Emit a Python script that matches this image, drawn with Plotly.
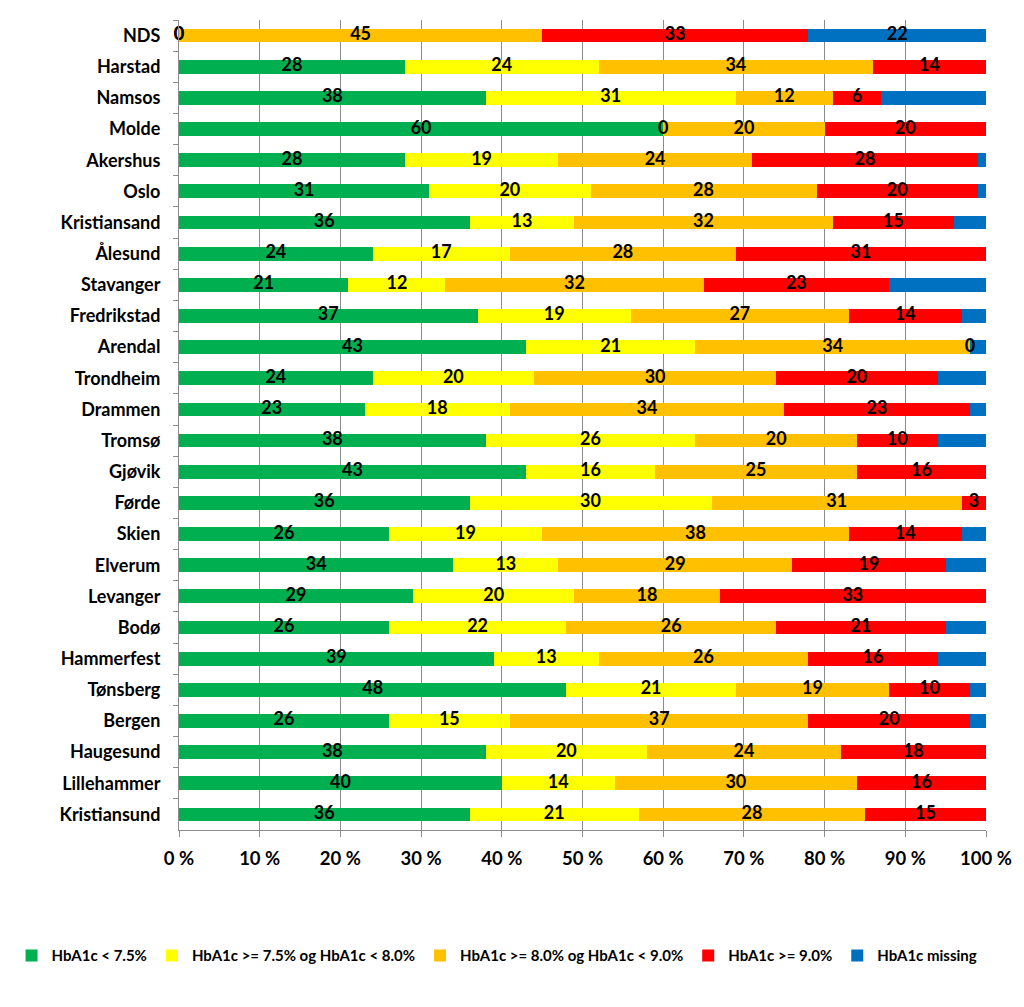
import plotly.graph_objects as go

categories = ["NDS", "Harstad", "Namsos", "Molde", "Akershus", "Oslo", "Kristiansand",
              "Ålesund", "Stavanger", "Fredrikstad", "Arendal", "Trondheim", "Drammen",
              "Tromsø", "Gjøvik", "Førde", "Skien", "Elverum", "Levanger", "Bodø",
              "Hammerfest", "Tønsberg", "Bergen", "Haugesund", "Lillehammer", "Kristiansund"]

lt75 = [0, 28, 38, 60, 28, 31, 36, 24, 21, 37, 43, 24, 23, 38, 43, 36, 26, 34, 29, 26, 39, 48, 26, 38, 40, 36]
b75_80 = [0, 24, 31, 0, 19, 20, 13, 17, 12, 19, 21, 20, 18, 26, 16, 30, 19, 13, 20, 22, 13, 21, 15, 20, 14, 21]
b80_90 = [45, 34, 12, 20, 24, 28, 32, 28, 32, 27, 34, 30, 34, 20, 25, 31, 38, 29, 18, 26, 26, 19, 37, 24, 30, 28]
ge90 = [33, 14, 6, 20, 28, 20, 15, 31, 23, 14, 0, 20, 23, 10, 16, 3, 14, 19, 33, 21, 16, 10, 20, 18, 16, 15]
missing = [22, 0, 13, 0, 1, 1, 4, 0, 12, 3, 2, 6, 2, 6, 0, 0, 3, 5, 0, 5, 6, 2, 2, 0, 0, 0]
missing_labels = ["22"] + [""] * 25

series_names = ["HbA1c < 7.5%", "HbA1c >= 7.5% og HbA1c < 8.0%",
                "HbA1c >= 8.0% og HbA1c < 9.0%", "HbA1c >= 9.0%", "HbA1c missing"]
series_values = [lt75, b75_80, b80_90, ge90, missing]
series_colors = ["#00B050", "#FFFF00", "#FFC000", "#FF0000", "#0070C0"]

x_ticks = list(range(0, 101, 10))
x_ticklabels = [f"{v} %" for v in x_ticks]

FONT = "Lato"

fig = go.Figure()
for name, vals, col in zip(series_names, series_values, series_colors):
    fig.add_trace(go.Bar(
        y=categories, x=vals, name=name, orientation="h",
        marker=dict(color=col, line=dict(width=0)),
    ))

# data labels at segment centres
starts = [0] * len(categories)
for i, vals in enumerate(series_values):
    mids = [s + v / 2 for s, v in zip(starts, vals)]
    if i < 4:
        texts = [str(v) for v in vals]
    else:
        texts = missing_labels
    fig.add_trace(go.Scatter(
        x=mids, y=categories, mode="text", text=texts,
        textposition="middle center",
        textfont=dict(family=FONT, size=18, color="black", weight="bold"),
        showlegend=False, hoverinfo="skip", cliponaxis=False,
    ))
    starts = [s + v for s, v in zip(starts, vals)]

fig.update_layout(
    barmode="stack",
    bargap=0.56,
    width=1024, height=1007,
    margin=dict(l=179, r=34, t=20, b=177),
    plot_bgcolor="white", paper_bgcolor="white",
    font=dict(family=FONT, color="black"),
    legend=dict(
        orientation="h", x=-0.2075, xanchor="left", y=-0.135, yanchor="top",
        font=dict(family=FONT, size=15, color="black", weight="bold"),
        traceorder="normal", itemwidth=30,
    ),
)
fig.update_xaxes(
    range=[0, 100], tickvals=x_ticks, ticktext=x_ticklabels,
    showgrid=True, gridcolor="#8c8c8c", gridwidth=1,
    showline=True, linecolor="#8c8c8c", linewidth=1,
    ticks="outside", ticklen=6, tickcolor="#8c8c8c",
    tickfont=dict(family=FONT, size=18.5, color="black", weight="bold"),
    ticklabelstandoff=6, zeroline=False,
)
fig.update_yaxes(
    categoryorder="array", categoryarray=categories,
    range=[len(categories) - 0.5, -0.5],
    showline=True, linecolor="#8c8c8c", linewidth=1,
    ticks="outside", ticklen=5, tickcolor="#8c8c8c", tickson="boundaries",
    showgrid=False,
    tickfont=dict(family=FONT, size=18, color="black", weight="bold"),
    ticklabelstandoff=14,
)

fig.write_html("out.html")
